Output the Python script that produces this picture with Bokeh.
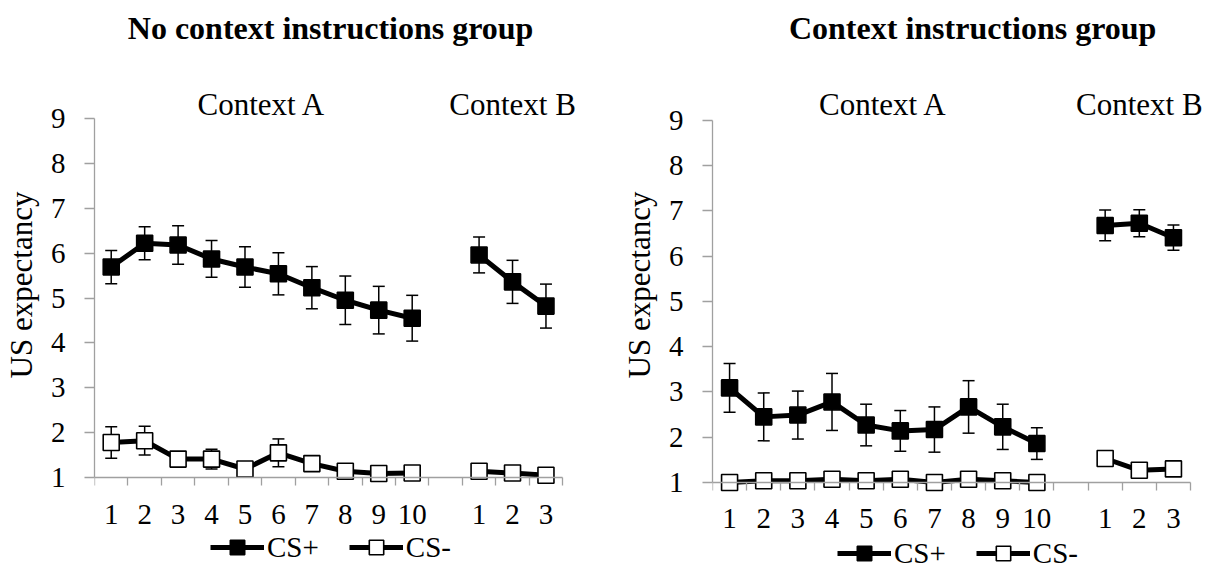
from bokeh.plotting import figure
from bokeh.models import (Range1d, LinearAxis, FixedTicker, Whisker, ColumnDataSource,
                          Label, Legend, LegendItem, TeeHead)
from bokeh.layouts import row
from bokeh.embed import file_html
from bokeh.resources import INLINE

# ---------------- data ----------------
trial_labels_a = ["1", "2", "3", "4", "5", "6", "7", "8", "9", "10"]
trial_labels_b = ["1", "2", "3"]
context_names = ["Context A", "Context B"]
series_names = ["CS+", "CS-"]
panel_titles = ["No context instructions group", "Context instructions group"]
y_ticks = [1, 2, 3, 4, 5, 6, 7, 8, 9]

# No context instructions group
noctx_csp_a = [5.69, 6.22, 6.18, 5.87, 5.69, 5.54, 5.23, 4.95, 4.73, 4.55]
noctx_csp_a_err = [0.37, 0.37, 0.43, 0.41, 0.45, 0.47, 0.47, 0.54, 0.53, 0.51]
noctx_csp_b = [5.96, 5.36, 4.82]
noctx_csp_b_err = [0.40, 0.48, 0.49]
noctx_csm_a = [1.78, 1.82, 1.41, 1.41, 1.19, 1.55, 1.31, 1.14, 1.09, 1.10]
noctx_csm_a_err = [0.35, 0.32, 0.08, 0.22, 0.06, 0.31, 0.10, 0.07, 0.05, 0.05]
noctx_csm_b = [1.14, 1.10, 1.05]
noctx_csm_b_err = [0.06, 0.05, 0.04]

# Context instructions group
ctx_csp_a = [3.09, 2.45, 2.49, 2.78, 2.27, 2.14, 2.17, 2.67, 2.23, 1.86]
ctx_csp_a_err = [0.54, 0.53, 0.53, 0.63, 0.46, 0.45, 0.50, 0.58, 0.50, 0.35]
ctx_csp_b = [6.68, 6.73, 6.41]
ctx_csp_b_err = [0.34, 0.30, 0.28]
ctx_csm_a = [1.00, 1.04, 1.04, 1.07, 1.04, 1.07, 1.00, 1.07, 1.04, 1.00]
ctx_csm_a_err = [0.04, 0.04, 0.04, 0.04, 0.04, 0.04, 0.04, 0.04, 0.04, 0.04]
ctx_csm_b = [1.53, 1.27, 1.30]
ctx_csm_b_err = [0.05, 0.05, 0.05]

# ---------------- helpers ----------------
FONT = "Liberation Serif"
QFONT = "'Liberation Serif'"
AXIS_GRAY = "#a0a0a0"

xa = [i + 1 for i in range(len(trial_labels_a))]
xb = [len(trial_labels_a) + 2 + i for i in range(len(trial_labels_b))]
n_slots = len(trial_labels_a) + 1 + len(trial_labels_b)
boundaries = [i + 0.5 for i in range(n_slots + 1)]
overrides = {x: lbl for x, lbl in zip(xa + xb, trial_labels_a + trial_labels_b)}


def make_panel(title, csp_a, csp_a_err, csp_b, csp_b_err, csm_a, csm_a_err, csm_b, csm_b_err,
               width, border_left, x_hi, y_lo, y_hi, title_x, title_y, ctx_y, legend_loc):
    p = figure(width=width, height=569, output_backend="svg", toolbar_location=None,
               x_range=Range1d(0.5, x_hi), y_range=Range1d(y_lo, y_hi),
               x_axis_location=None, min_border_left=border_left,
               min_border_right=0, min_border_top=0, min_border_bottom=0)
    p.outline_line_color = None
    p.xgrid.visible = False
    p.ygrid.visible = False
    p.background_fill_color = "white"

    # y axis
    ya = p.yaxis[0]
    ya.ticker = FixedTicker(ticks=y_ticks)
    ya.bounds = (1, 9)
    ya.axis_line_color = AXIS_GRAY
    ya.axis_line_width = 1.3
    ya.major_tick_line_color = AXIS_GRAY
    ya.major_tick_line_width = 1.3
    ya.major_tick_out = 10
    ya.major_tick_in = 0
    ya.minor_tick_line_color = None
    ya.major_label_text_font = QFONT
    ya.major_label_text_font_size = "29px"
    ya.major_label_text_color = "black"
    ya.major_label_standoff = 19
    ya.axis_label = "US expectancy"
    ya.axis_label_text_font = QFONT
    ya.axis_label_text_font_size = "31px"
    ya.axis_label_text_font_style = "normal"
    ya.axis_label_text_color = "black"
    ya.axis_label_standoff = 9

    # x axis: tick marks at slot boundaries
    xt = LinearAxis(ticker=FixedTicker(ticks=boundaries), fixed_location=1)
    xt.axis_line_color = AXIS_GRAY
    xt.axis_line_width = 1.3
    xt.major_tick_line_color = AXIS_GRAY
    xt.major_tick_line_width = 1.3
    xt.major_tick_out = 8
    xt.major_tick_in = 0
    xt.minor_tick_line_color = None
    xt.major_label_text_alpha = 0
    xt.bounds = (0.5, n_slots + 0.5)
    p.add_layout(xt, "below")

    # x axis: labels at slot centres
    xl = LinearAxis(ticker=FixedTicker(ticks=xa + xb), fixed_location=1)
    xl.axis_line_color = None
    xl.major_tick_line_color = None
    xl.minor_tick_line_color = None
    xl.major_tick_out = 0
    xl.major_tick_in = 0
    xl.major_label_overrides = overrides
    xl.major_label_text_font = QFONT
    xl.major_label_text_font_size = "29px"
    xl.major_label_text_color = "black"
    xl.major_label_standoff = 27
    p.add_layout(xl, "below")

    renderers = {}
    for name, va, ea, vb, eb in [("CS+", csp_a, csp_a_err, csp_b, csp_b_err),
                                 ("CS-", csm_a, csm_a_err, csm_b, csm_b_err)]:
        xs = xa + xb
        ys = va + vb
        es = ea + eb
        src = ColumnDataSource(dict(x=xs, y=ys,
                                    upper=[y + e for y, e in zip(ys, es)],
                                    lower=[y - e for y, e in zip(ys, es)]))
        w = Whisker(source=src, base="x", upper="upper", lower="lower",
                    line_color="black", line_width=1.5,
                    upper_head=TeeHead(size=12, line_color="black", line_width=1.5),
                    lower_head=TeeHead(size=12, line_color="black", line_width=1.5))
        p.add_layout(w)
        la = p.line(xa, va, line_color="black", line_width=5)
        lb = p.line(xb, vb, line_color="black", line_width=5)
        renderers[name] = (la, lb, src)
    scat = {}
    for name, fill in [("CS+", "black"), ("CS-", "white")]:
        src = renderers[name][2]
        scat[name] = p.scatter("x", "y", source=src, marker="square", size=16,
                               fill_color=fill, line_color="black", line_width=1.6)

    legend = Legend(items=[LegendItem(label=n, renderers=[renderers[n][0], scat[n]])
                           for n in series_names],
                    location=legend_loc, orientation="horizontal",
                    glyph_width=54, glyph_height=36, label_height=30,
                    label_standoff=3, spacing=30, padding=0, margin=0,
                    border_line_alpha=0, background_fill_alpha=0,
                    label_text_font=QFONT, label_text_font_size="29px",
                    label_text_color="black")
    p.add_layout(legend)

    p.add_layout(Label(x=title_x, y=title_y, text=title, text_align="center",
                       text_baseline="alphabetic", text_font=FONT,
                       text_font_size="32px", text_font_style="bold", text_color="black"))
    ca = (xa[0] + xa[-1]) / 2
    cb = (xb[0] + xb[-1]) / 2
    for cx, cname in zip([ca, cb], context_names):
        p.add_layout(Label(x=cx, y=ctx_y, text=cname, text_align="center",
                           text_baseline="alphabetic", text_font=FONT,
                           text_font_size="31px", text_color="black"))
    return p


p1 = make_panel(panel_titles[0], noctx_csp_a, noctx_csp_a_err, noctx_csp_b, noctx_csp_b_err,
                noctx_csm_a, noctx_csm_a_err, noctx_csm_b, noctx_csm_b_err,
                width=608, border_left=92, x_hi=15.87,
                y_lo=-1.050, y_hi=11.630, title_x=7.56, title_y=11.02, ctx_y=9.312,
                legend_loc=(116, 4))
p2 = make_panel(panel_titles[1], ctx_csp_a, ctx_csp_a_err, ctx_csp_b, ctx_csp_b_err,
                ctx_csm_a, ctx_csm_a_err, ctx_csm_b, ctx_csm_b_err,
                width=609, border_left=104, x_hi=15.29,
                y_lo=-0.923, y_hi=11.652, title_x=8.12, title_y=11.05, ctx_y=9.354,
                legend_loc=(125, -2))

layout = row(p1, p2)
open("out.html", "w").write(file_html(layout, INLINE))
